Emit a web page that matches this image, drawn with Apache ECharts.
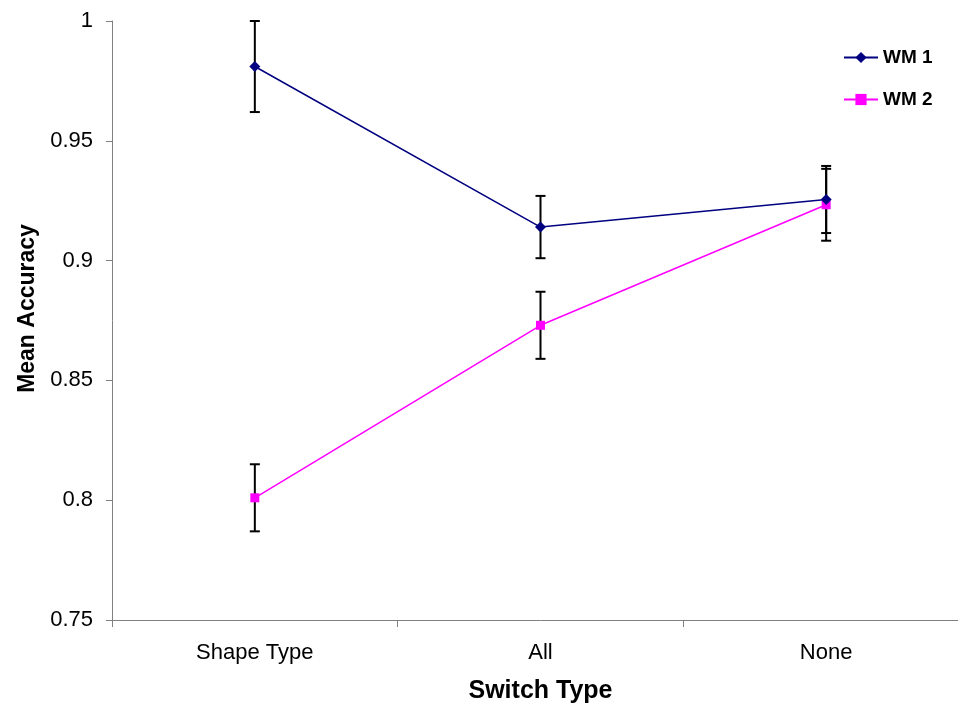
<!DOCTYPE html>
<html>
<head>
<meta charset="utf-8">
<title>Mean Accuracy by Switch Type</title>
<script src="https://cdn.jsdelivr.net/npm/echarts@6/dist/echarts.min.js"></script>
<style>
  html, body { margin: 0; padding: 0; background: #ffffff; overflow: hidden; }
  /* the plot area runs a little past the right edge of the window */
  #chart { width: 980px; height: 709px; }
</style>
</head>
<body>
<div id="chart"></div>
<script>
// Switch conditions on the x axis
const categories = ['Shape Type', 'All', 'None'];

// Mean accuracy per condition
const wm1Mean = [0.981, 0.914, 0.9255];
const wm2Mean = [0.801, 0.873, 0.9233];

// Error bar half-widths
const wm1Err = [0.019, 0.013, 0.014];
const wm2Err = [0.014, 0.014, 0.015];

// Y axis range and step
const yMin = 0.75, yMax = 1, yStep = 0.05;

const FONT = 'Liberation Sans, Arial, sans-serif';

function errorData(mean, err) {
  return mean.map((m, i) => [i, m - err[i], m + err[i]]);
}

function renderErrorBar(params, api) {
  const x = api.value(0);
  const lo = api.coord([x, api.value(1)]);
  const hi = api.coord([x, api.value(2)]);
  const cap = 5;
  const style = { stroke: '#000000', lineWidth: 2 };
  return {
    type: 'group',
    children: [
      { type: 'line', shape: { x1: hi[0], y1: hi[1], x2: lo[0], y2: lo[1] }, style },
      { type: 'line', shape: { x1: hi[0] - cap, y1: hi[1], x2: hi[0] + cap, y2: hi[1] }, style },
      { type: 'line', shape: { x1: lo[0] - cap, y1: lo[1], x2: lo[0] + cap, y2: lo[1] }, style }
    ]
  };
}

const chart = echarts.init(document.getElementById('chart'), null, { renderer: 'canvas' });

chart.setOption({
  animation: false,
  backgroundColor: '#ffffff',
  textStyle: { fontFamily: FONT },
  grid: { left: 112, top: 21, right: 11, bottom: 88 },
  legend: {
    data: ['WM 1', 'WM 2'],
    orient: 'vertical',
    left: 843,
    top: 48,
    padding: 0,
    itemWidth: 34,
    itemHeight: 14,
    itemGap: 23,
    textStyle: { fontFamily: FONT, fontSize: 19, fontWeight: 'bold', color: '#000000' }
  },
  xAxis: {
    type: 'category',
    data: categories,
    boundaryGap: true,
    name: 'Switch Type',
    nameLocation: 'middle',
    nameGap: 59,
    nameTextStyle: { fontFamily: FONT, fontSize: 25, fontWeight: 'bold', color: '#000000' },
    axisLine: { show: true, lineStyle: { color: '#808080', width: 1 } },
    axisTick: { show: true, length: 7, alignWithLabel: false, lineStyle: { color: '#808080' } },
    axisLabel: { margin: 22, fontFamily: FONT, fontSize: 22, color: '#000000' },
    splitLine: { show: false }
  },
  yAxis: {
    type: 'value',
    min: yMin,
    max: yMax,
    interval: yStep,
    name: 'Mean Accuracy',
    nameLocation: 'middle',
    nameGap: 73,
    nameTextStyle: {
      fontFamily: FONT, fontSize: 23, fontWeight: 'bold', color: '#000000',
      padding: [0, 0, 0, 24]
    },
    axisLine: { show: true, lineStyle: { color: '#808080', width: 1 } },
    axisTick: { show: true, length: 6, lineStyle: { color: '#808080' } },
    axisLabel: { margin: 19, fontFamily: FONT, fontSize: 22, color: '#000000' },
    splitLine: { show: false }
  },
  series: [
    {
      name: 'WM 1 error',
      type: 'custom',
      renderItem: renderErrorBar,
      data: errorData(wm1Mean, wm1Err),
      encode: { x: 0, y: [1, 2] },
      z: 1,
      silent: true
    },
    {
      name: 'WM 2 error',
      type: 'custom',
      renderItem: renderErrorBar,
      data: errorData(wm2Mean, wm2Err),
      encode: { x: 0, y: [1, 2] },
      z: 1,
      silent: true
    },
    {
      name: 'WM 1',
      type: 'line',
      data: wm1Mean,
      symbol: 'diamond',
      symbolSize: 11,
      color: '#000080',
      lineStyle: { color: '#000080', width: 1.5 },
      itemStyle: { color: '#000080' },
      z: 3
    },
    {
      name: 'WM 2',
      type: 'line',
      data: wm2Mean,
      symbol: 'rect',
      symbolSize: 9,
      color: '#ff00ff',
      lineStyle: { color: '#ff00ff', width: 1.5 },
      itemStyle: { color: '#ff00ff' },
      z: 2
    }
  ]
});
</script>
</body>
</html>
